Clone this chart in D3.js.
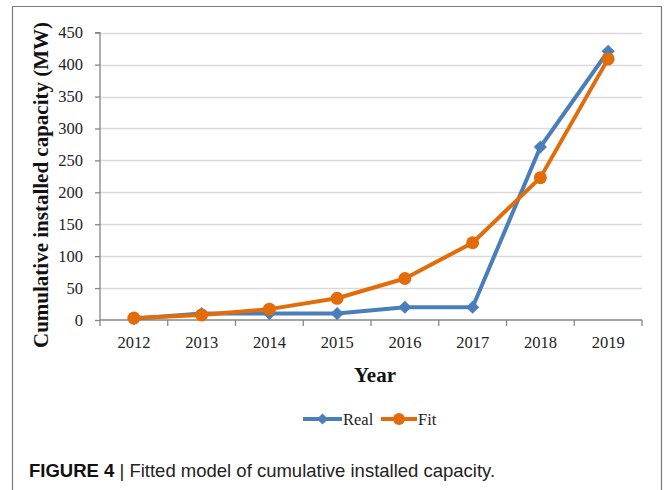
<!DOCTYPE html>
<html><head><meta charset="utf-8">
<script src="https://cdn.jsdelivr.net/npm/d3@7"></script>
<style>body{margin:0;background:#fff}svg{display:block}</style>
</head><body>
<svg id="c" width="664" height="490"></svg>
<script>
const years = ["2012","2013","2014","2015","2016","2017","2018","2019"];
const realValues = [2, 10, 10, 10, 20, 20, 271, 421];
const fitValues = [3, 8, 17, 34, 65, 121, 223, 409];
const yTicks = [0,50,100,150,200,250,300,350,400,450];
const seriesNames = ["Real","Fit"];

const svg = d3.select("#c");
const margin = {left:100, right:642, top:32.7, bottom:320};
const x = d3.scaleBand().domain(years).range([margin.left, margin.right]);
const y = d3.scaleLinear().domain([0,450]).range([margin.bottom, margin.top]);

// outer frame
svg.append("path").attr("d","M12.5,500V6.5H661.5V500").attr("fill","none").attr("stroke","#7a7a7a").attr("stroke-width",1.2);

// gridlines
svg.append("g").selectAll("line").data(yTicks.filter(d=>d>0)).join("line")
  .attr("x1",margin.left).attr("x2",margin.right)
  .attr("y1",d=>Math.round(y(d))+0.5).attr("y2",d=>Math.round(y(d))+0.5)
  .attr("stroke","#d9d9d9").attr("stroke-width",1.3);

const serif = "'Liberation Serif','Times New Roman',serif";
const fs = 16.5;
// y axis
const yAxis = svg.append("g").attr("transform",`translate(${margin.left},0)`)
  .call(d3.axisLeft(y).tickValues(yTicks).tickSize(5).tickPadding(12));
yAxis.attr("font-size",null).attr("font-family",null);
yAxis.select(".domain").attr("stroke","#868686").attr("stroke-width",1.3).attr("d",`M-5,${y(450)}H0V${y(0)}`);
yAxis.selectAll(".tick line").attr("stroke","#868686").attr("stroke-width",1.3);
yAxis.selectAll("text").style("font-family",serif).style("font-size",fs+"px").attr("fill","#222");

// x axis
const xAxis = svg.append("g").attr("transform",`translate(0,${margin.bottom})`)
  .call(d3.axisBottom(x).tickSize(0).tickPadding(16));
xAxis.attr("font-size",null).attr("font-family",null);
xAxis.select(".domain").attr("stroke","#868686").attr("stroke-width",1.3).attr("d",`M${margin.left},0H${margin.right}`);
xAxis.selectAll("text").style("font-family",serif).style("font-size",fs+"px").attr("fill","#222");
const bounds = years.map(d=>x(d)).concat([margin.right]);
svg.append("g").selectAll("line").data(bounds).join("line")
  .attr("x1",d=>d).attr("x2",d=>d).attr("y1",margin.bottom).attr("y2",margin.bottom+6)
  .attr("stroke","#868686").attr("stroke-width",1.3);

// axis titles
svg.append("text").attr("x",(margin.left+margin.right)/2 + 4).attr("y",382)
  .attr("text-anchor","middle").style("font-family",serif).attr("font-weight","bold").style("font-size","21px").attr("fill","#111").text("Year");
svg.append("text").attr("transform","translate(48,185) rotate(-90)")
  .attr("text-anchor","middle").style("font-family",serif).attr("font-weight","bold").style("font-size","21px").attr("fill","#111")
  .text("Cumulative installed capacity (MW)");

const blue = "#4a7ebb", orange = "#e36c0a";
const cx = d => x(d) + x.bandwidth()/2;
const line = d3.line().x((d,i)=>cx(years[i])).y(d=>y(d));
const diamond = d3.symbol().type(d3.symbolDiamond2).size(110);

// Real
svg.append("path").datum(realValues).attr("d",line).attr("fill","none").attr("stroke",blue).attr("stroke-width",4).attr("stroke-linejoin","round");
svg.append("g").selectAll("path").data(realValues).join("path")
  .attr("transform",(d,i)=>`translate(${cx(years[i])},${y(d)})`).attr("d",diamond).attr("fill",blue);
// Fit
svg.append("path").datum(fitValues).attr("d",line).attr("fill","none").attr("stroke",orange).attr("stroke-width",4).attr("stroke-linejoin","round");
svg.append("g").selectAll("circle").data(fitValues).join("circle")
  .attr("cx",(d,i)=>cx(years[i])).attr("cy",d=>y(d)).attr("r",6.5).attr("fill",orange);

// legend
const lg = svg.append("g");
const legendItems = [
  {name:seriesNames[0], color:blue, x0:303, x1:342, type:"d"},
  {name:seriesNames[1], color:orange, x0:381, x1:417, type:"c"}
];
legendItems.forEach(it=>{
  lg.append("line").attr("x1",it.x0).attr("x2",it.x1).attr("y1",419).attr("y2",419).attr("stroke",it.color).attr("stroke-width",4);
  const mx=(it.x0+it.x1)/2;
  if(it.type==="d") lg.append("path").attr("transform",`translate(${mx},419)`).attr("d",d3.symbol().type(d3.symbolDiamond2).size(80)).attr("fill",it.color);
  else lg.append("circle").attr("cx",mx).attr("cy",419).attr("r",6).attr("fill",it.color);
  lg.append("text").attr("x",it.x1+1).attr("y",425).style("font-family",serif).style("font-size",fs+"px").attr("fill","#222").text(it.name);
});

// caption
const cap = svg.append("text").attr("x",29).attr("y",477).style("font-family","'Liberation Sans',Arial,sans-serif").style("font-size","18.5px").attr("fill","#222");
cap.append("tspan").attr("font-weight","bold").attr("fill","#111").text("FIGURE 4");
cap.append("tspan").text(" | Fitted model of cumulative installed capacity.");
</script>
</body></html>
